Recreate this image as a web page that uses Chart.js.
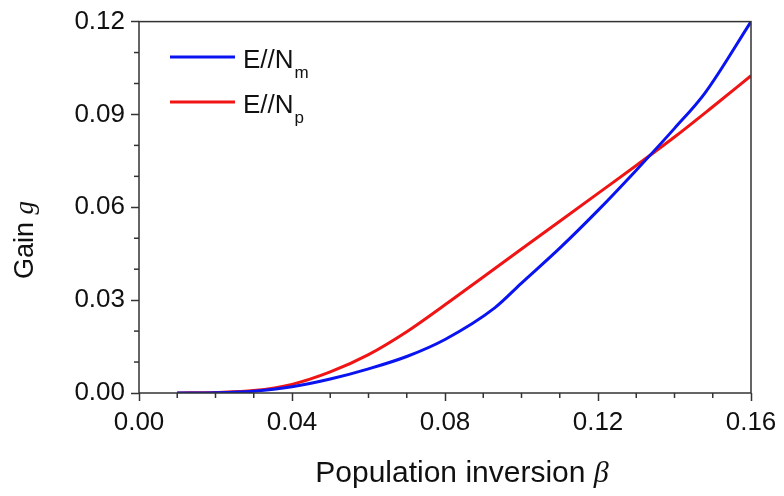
<!DOCTYPE html>
<html>
<head>
<meta charset="utf-8">
<script src="https://cdn.jsdelivr.net/npm/chart.js@4.4.1/dist/chart.umd.min.js"></script>
<style>
  html, body { margin: 0; padding: 0; background: #fff; }
  #wrap { width: 784px; height: 496px; }
</style>
</head>
<body>
<div id="wrap"><canvas id="gainChart" width="784" height="496"></canvas></div>
<script>
/*............................data.................................*/

const betaM = [0.01, 0.02, 0.03, 0.04, 0.05, 0.06, 0.07, 0.08, 0.093, 0.10, 0.11, 0.12, 0.13, 0.14, 0.148, 0.16];
const gainM = [0, 0.0001, 0.0006, 0.002, 0.0045, 0.0078, 0.0118, 0.0173, 0.0275, 0.0355, 0.0468, 0.059, 0.072, 0.0855, 0.097, 0.12];

const betaP = [0.01, 0.02, 0.03, 0.04, 0.05, 0.06, 0.07, 0.08, 0.09, 0.10, 0.11, 0.12, 0.13, 0.14, 0.15, 0.16];
const gainP = [0, 0.0002, 0.0008, 0.0028, 0.0068, 0.0124, 0.0198, 0.0285, 0.0375, 0.0465, 0.0555, 0.0645, 0.0735, 0.0827, 0.0925, 0.1025];

const xTicks = [0.00, 0.04, 0.08, 0.12, 0.16];
const yTicks = [0.00, 0.03, 0.06, 0.09, 0.12];

const seriesNames = ['E//N', 'E//N'];
const seriesSubs = ['m', 'p'];
const seriesColors = ['#0a14f0', '#f01414'];

/*............................helpers.................................*/

const axisColor = '#333';
const sans = '"Liberation Sans", Arial, sans-serif';
const serif = '"Liberation Serif", "DejaVu Serif", serif';

function isMajor(v, list) {
  return list.some(t => Math.abs(v - t) < 1e-9);
}

function toPoints(xs, ys) {
  return xs.map((x, i) => ({ x: x, y: ys[i] }));
}

/*............................plugin: frame, minor ticks, titles, legend..............*/

const decor = {
  id: 'decor',
  afterDraw(chart) {
    const c = chart.ctx;
    const a = chart.chartArea;
    const xs = chart.scales.x;
    const ys = chart.scales.y;

    c.save();
    c.strokeStyle = axisColor;
    c.lineWidth = 1.5;

    // minor ticks
    xs.ticks.forEach(t => {
      if (isMajor(t.value, xTicks)) return;
      const px = xs.getPixelForValue(t.value);
      c.beginPath();
      c.moveTo(px, a.bottom);
      c.lineTo(px, a.bottom + 5);
      c.stroke();
    });
    ys.ticks.forEach(t => {
      if (isMajor(t.value, yTicks)) return;
      const py = ys.getPixelForValue(t.value);
      c.beginPath();
      c.moveTo(a.left, py);
      c.lineTo(a.left - 5, py);
      c.stroke();
    });

    // box
    c.strokeRect(a.left, a.top, a.right - a.left, a.bottom - a.top);

    // x title
    c.fillStyle = '#111';
    c.textBaseline = 'alphabetic';
    c.textAlign = 'left';
    c.font = '30px ' + sans;
    const xt = 'Population inversion ';
    const w1 = c.measureText(xt).width;
    c.font = 'italic 30px ' + serif;
    const w2 = c.measureText('β').width;
    const sx = 462 - (w1 + w2) / 2;
    c.font = '30px ' + sans;
    c.fillText(xt, sx, 482);
    c.font = 'italic 30px ' + serif;
    c.fillText('β', sx + w1, 482);

    // y title
    c.save();
    c.translate(33, 240);
    c.rotate(-Math.PI / 2);
    c.font = '27px ' + sans;
    const yt = 'Gain ';
    const v1 = c.measureText(yt).width;
    c.font = 'italic 27px ' + serif;
    const v2 = c.measureText('g').width;
    c.font = '27px ' + sans;
    c.fillText(yt, -(v1 + v2) / 2, 0);
    c.font = 'italic 27px ' + serif;
    c.fillText('g', -(v1 + v2) / 2 + v1, 0);
    c.restore();

    // legend
    const rows = [57, 102];
    rows.forEach((ly, i) => {
      c.strokeStyle = seriesColors[i];
      c.lineWidth = 3;
      c.beginPath();
      c.moveTo(170, ly);
      c.lineTo(235, ly);
      c.stroke();
      c.fillStyle = '#111';
      c.font = '26px ' + sans;
      c.fillText(seriesNames[i], 243, ly + 11);
      const nw = c.measureText(seriesNames[i]).width;
      c.font = '17px ' + sans;
      c.fillText(seriesSubs[i], 243 + nw + 1, ly + 21);
    });

    c.restore();
  }
};

/*............................chart.................................*/

const data = {
  datasets: [
    {
      label: 'E//Nm',
      data: toPoints(betaM, gainM),
      borderColor: seriesColors[0],
      borderWidth: 3,
      pointRadius: 0,
      cubicInterpolationMode: 'monotone',
      showLine: true,
      fill: false
    },
    {
      label: 'E//Np',
      data: toPoints(betaP, gainP),
      borderColor: seriesColors[1],
      borderWidth: 3,
      pointRadius: 0,
      cubicInterpolationMode: 'monotone',
      showLine: true,
      fill: false
    }
  ]
};

const config = {
  type: 'scatter',
  data: data,
  options: {
    responsive: false,
    animation: false,
    events: [],
    layout: { padding: { top: 18, right: 33, left: 0, bottom: 0 } },
    plugins: { legend: { display: false }, tooltip: { enabled: false } },
    scales: {
      x: {
        type: 'linear',
        min: 0,
        max: 0.16,
        afterFit: s => { s.height = 103; },
        afterBuildTicks: s => {
          const t = [];
          for (let i = 0; i <= 16; i++) t.push({ value: i / 100 });
          s.ticks = t;
        },
        ticks: {
          autoSkip: false,
          maxRotation: 0,
          padding: 6,
          color: '#111',
          font: { family: sans, size: 26 },
          callback: v => isMajor(v, xTicks) ? v.toFixed(2) : ''
        },
        grid: {
          drawOnChartArea: false,
          tickLength: 8,
          tickWidth: 1.5,
          tickColor: ctx => isMajor(ctx.tick.value, xTicks) ? axisColor : 'rgba(0,0,0,0)'
        },
        border: { display: false }
      },
      y: {
        type: 'linear',
        min: 0,
        max: 0.12,
        afterFit: s => { s.width = 139; },
        afterBuildTicks: s => {
          const t = [];
          for (let i = 0; i <= 12; i++) t.push({ value: i / 100 });
          s.ticks = t;
        },
        ticks: {
          autoSkip: false,
          padding: 6,
          color: '#111',
          font: { family: sans, size: 26 },
          callback: v => isMajor(v, yTicks) ? v.toFixed(2) : ''
        },
        grid: {
          drawOnChartArea: false,
          tickLength: 8,
          tickWidth: 1.5,
          tickColor: ctx => isMajor(ctx.tick.value, yTicks) ? axisColor : 'rgba(0,0,0,0)'
        },
        border: { display: false }
      }
    }
  },
  plugins: [decor]
};

const ctx = document.getElementById('gainChart').getContext('2d');
const gainChart = new Chart(ctx, config);
</script>
</body>
</html>
